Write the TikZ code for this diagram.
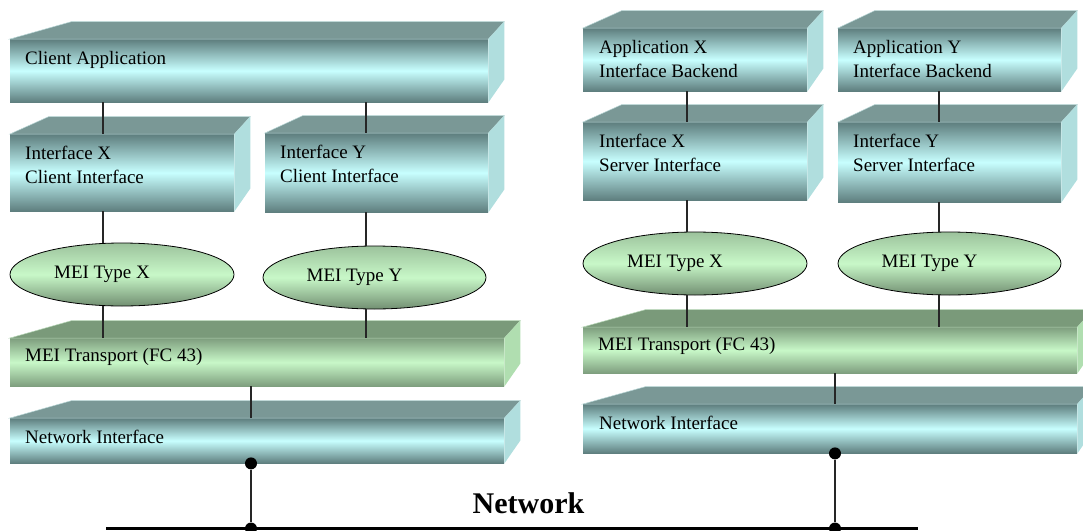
\documentclass[tikz,border=0pt]{standalone}
\usepackage{fontspec}
\setmainfont{Liberation Serif}
\usetikzlibrary{positioning,calc,shapes.geometric}

\definecolor{cTealDark}{HTML}{5E7E7E}
\definecolor{cTealLight}{HTML}{C8FFFF}
\definecolor{cTealTop}{HTML}{7A9896}
\definecolor{cTealSide}{HTML}{B0DEDE}
\definecolor{cTealEdge}{HTML}{B8D6D6}
\definecolor{cGreenDark}{HTML}{7E9E7E}
\definecolor{cGreenLight}{HTML}{C8F8C8}
\definecolor{cGreenTop}{HTML}{7A9A7A}
\definecolor{cGreenSide}{HTML}{B0DEB0}
\definecolor{cGreenEdge}{HTML}{B8D8B8}
\definecolor{cMeiTop}{HTML}{9CC29C}
\definecolor{cMeiBottom}{HTML}{728F72}

\begin{document}
\begin{tikzpicture}[x=1pt, y=-1pt,
    tealface/.style={anchor=north west, inner sep=0, top color=cTealDark, bottom color=cTealDark, middle color=cTealLight},
    greenface/.style={anchor=north west, inner sep=0, top color=cGreenDark, bottom color=cGreenDark, middle color=cGreenLight},
    tealtop/.style={fill=cTealTop, draw=cTealEdge, line width=0.5pt},
    tealside/.style={fill=cTealSide},
    greentop/.style={fill=cGreenTop, draw=cGreenEdge, line width=0.5pt},
    greenside/.style={fill=cGreenSide},
    boxtext/.style={inner sep=0, align=left, font=\fontsize{19}{24}\selectfont},
    mei/.style={ellipse, draw=black, line width=0.8pt, inner sep=0, minimum height=63,
        top color=cMeiTop, bottom color=cMeiBottom, middle color=cGreenLight},
    conn/.style={draw=black!85, line width=1.2pt},
    dot/.style={circle, fill=black, inner sep=0, minimum size=12},
    bus/.style={draw=black, line width=3pt}]

    \useasboundingbox (0,0) rectangle (1083,530);

    % Client side stack
    \node[tealface, minimum width=478, minimum height=63] (app) at (10,39) {};
    \node[tealface, minimum width=224, minimum height=77] (icx) at (10,134) {};
    \node[tealface, minimum width=223, minimum height=79] (icy) at (265,133) {};
    \node[greenface, minimum width=494, minimum height=48] (mtl) at (10,338) {};
    \node[tealface, minimum width=494, minimum height=45] (nil) at (10,418) {};

    % Server side stack
    \node[tealface, minimum width=224, minimum height=63] (abx) at (583,28) {};
    \node[tealface, minimum width=223, minimum height=63] (aby) at (838,28) {};
    \node[tealface, minimum width=224, minimum height=78] (isx) at (583,122) {};
    \node[tealface, minimum width=223, minimum height=80] (isy) at (838,122) {};
    \node[greenface, minimum width=494, minimum height=46] (mtr) at (583,327) {};
    \node[tealface, minimum width=494, minimum height=49] (nir) at (583,404) {};

    % Top and side faces
    \foreach \b/\dx/\col in {app/62/teal, icx/39/teal, icy/38/teal, mtl/62/green, nil/62/teal,
                             abx/39/teal, aby/37/teal, isx/39/teal, isy/37/teal, mtr/63/green, nir/63/teal} {
        \filldraw[\col top] (\b.north west) -- ++(\dx,-17.5) -- ($(\b.north east)+(16,-17.5)$) -- (\b.north east) -- cycle;
        \fill[\col side] (\b.north east) -- ++(16,-17.5) -- ($(\b.south east)+(16,-23)$) -- (\b.south east) -- cycle;
    }

    % Labels
    \node[boxtext, below right=12pt and 15pt of app.north west] (app-t) {Client Application};
    \node[boxtext, below right=12pt and 15pt of icx.north west] (icx-t) {Interface X\\Client Interface};
    \node[boxtext, below right=12pt and 15pt of icy.north west] (icy-t) {Interface Y\\Client Interface};
    \node[boxtext, below right=10pt and 15pt of mtl.north west] (mtl-t) {MEI Transport (FC 43)};
    \node[boxtext, below right=12pt and 15pt of nil.north west] (nil-t) {Network Interface};
    \node[boxtext, below right=12pt and 16pt of abx.north west] (abx-t) {Application X\\Interface Backend};
    \node[boxtext, below right=12pt and 15pt of aby.north west] (aby-t) {Application Y\\Interface Backend};
    \node[boxtext, below right=12pt and 16pt of isx.north west] (isx-t) {Interface X\\Server Interface};
    \node[boxtext, below right=12pt and 15pt of isy.north west] (isy-t) {Interface Y\\Server Interface};
    \node[boxtext, below right=10pt and 15pt of mtr.north west] (mtr-t) {MEI Transport (FC 43)};
    \node[boxtext, below right=12pt and 16pt of nir.north west] (nir-t) {Network Interface};

    % MEI types
    \node[mei, minimum width=224, label={[boxtext, xshift=-20pt]center:MEI Type X}] (mxl) at (122,274.5) {};
    \node[mei, minimum width=223, label={[boxtext, xshift=-20pt]center:MEI Type Y}] (myl) at (374.5,277.5) {};
    \node[mei, minimum width=224, label={[boxtext, xshift=-20pt]center:MEI Type X}] (mxr) at (695,263.5) {};
    \node[mei, minimum width=223, label={[boxtext, xshift=-20pt]center:MEI Type Y}] (myr) at (949.5,263.5) {};

    % Connectors
    \coordinate (lx) at (103,0);
    \coordinate (ly) at (366,0);
    \coordinate (lt) at (251,0);
    \coordinate (rx) at (687,0);
    \coordinate (ry) at (939,0);
    \coordinate (rt) at (835,0);
    \draw[conn] (app.south -| lx) -- (icx.north -| lx);
    \draw[conn] (icx.south -| lx) -- (mxl.north -| lx);
    \draw[conn] (mxl.south -| lx) -- (mtl.north -| lx);
    \draw[conn] (app.south -| ly) -- (icy.north -| ly);
    \draw[conn] (icy.south -| ly) -- (myl.north -| ly);
    \draw[conn] (myl.south -| ly) -- (mtl.north -| ly);
    \draw[conn] (mtl.south -| lt) -- (nil.north -| lt);
    \draw[conn] (abx.south -| rx) -- (isx.north -| rx);
    \draw[conn] (isx.south -| rx) -- (mxr.north -| rx);
    \draw[conn] (mxr.south -| rx) -- (mtr.north -| rx);
    \draw[conn] (aby.south -| ry) -- (isy.north -| ry);
    \draw[conn] (isy.south -| ry) -- (myr.north -| ry);
    \draw[conn] (myr.south -| ry) -- (mtr.north -| ry);
    \draw[conn] (mtr.south -| rt) -- (nir.north -| rt);

    % Network
    \coordinate (busw) at (106,528.5);
    \coordinate (buse) at (918,528.5);
    \draw[bus] (busw) -- (buse);
    \node[dot] (tapl) at (nil.south -| lt) {};
    \node[dot] (busl) at (busw -| lt) {};
    \node[dot] (tapr) at (nir.south -| rt) {};
    \node[dot] (busr) at (busw -| rt) {};
    \draw[conn] (tapl) -- (busl);
    \draw[conn] (tapr) -- (busr);
    \node[inner sep=0, font=\bfseries\fontsize{30}{36}\selectfont] (net) at (528.5,503) {Network};
\end{tikzpicture}
\end{document}
